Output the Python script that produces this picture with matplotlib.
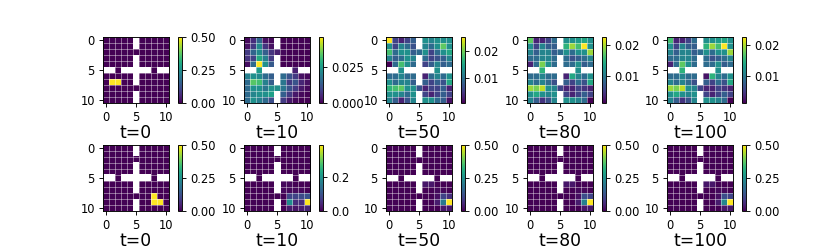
import numpy as np
import matplotlib.pyplot as plt

W = np.nan

# time steps shown in each column
times = [0, 10, 50, 80, 100]

# top row: spread-out occupancy (values in units of 1e-3 except t=0)
top_t0 = np.zeros((11, 11))
top_t0[7, 1] = 0.5
top_t0[7, 2] = 0.5

top_t10 = [
    [1, 6, 15, 2, 1, W, 0, 0, 0, 0, 0],
    [2, 8, 22, 7, 2, W, 0, 0, 0, 0, 0],
    [8, 15, 22, 14, 7, 4, 1, 0, 0, 0, 0],
    [7, 9, 28, 20, 8, W, 0, 0, 0, 0, 0],
    [2, 16, 46, 23, 13, W, 0, 0, 0, 0, 0],
    [W, W, 25, W, W, W, W, W, 4, W, W],
    [20, 23, 22, 16, 14, W, 16, 12, 8, 2, 1],
    [16, 34, 32, 20, 14, W, 18, 8, 12, 5, 2],
    [16, 23, 23, 18, 23, 23, 18, 12, 8, 3, 1],
    [16, 21, 23, 23, 26, W, 14, 8, 3, 1, 0],
    [16, 23, 20, 16, 11, W, 8, 3, 1, 0, 0],
]

top_t50 = [
    [25.4, 5.6, 3.1, 5.6, 8.0, W, 13.0, 11.8, 13.0, 13.0, 13.0],
    [13.0, 5.6, 11.8, 9.3, 6.8, W, 11.8, 9.3, 13.0, 19.2, 13.0],
    [18.0, 9.3, 13.0, 13.0, 8.0, 9.3, 13.0, 5.6, 9.3, 13.0, 15.5],
    [11.8, 8.0, 9.3, 13.0, 11.8, W, 9.3, 5.6, 6.8, 8.0, 11.8],
    [0.6, 9.3, 18.0, 13.0, 9.3, W, 5.6, 8.0, 11.8, 8.0, 9.3],
    [W, W, 13.0, W, W, W, W, W, 13.0, W, W],
    [9.3, 9.3, 11.8, 9.3, 9.3, W, 3.1, 9.3, 11.8, 9.3, 13.0],
    [13.0, 9.3, 11.8, 11.8, 8.0, W, 8.0, 5.6, 8.0, 6.8, 15.5],
    [16.7, 18.0, 19.2, 13.0, 13.0, 6.8, 3.1, 5.6, 5.6, 8.0, 3.1],
    [13.0, 13.0, 11.8, 9.3, 13.0, W, 5.6, 3.1, 5.6, 8.0, 5.6],
    [11.8, 8.0, 3.1, 6.8, 11.8, W, 13.0, 13.0, 9.3, 8.0, 1.8],
]

top_t80 = [
    [17.2, 3.3, 3.3, 5.5, 8.7, W, 11.9, 11.9, 12.9, 14.0, 11.9],
    [11.9, 5.5, 10.8, 7.6, 7.6, W, 15.0, 19.3, 16.1, 22.5, 11.9],
    [10.8, 7.6, 10.8, 10.8, 7.6, 8.7, 11.9, 8.7, 11.9, 11.9, 19.3],
    [8.7, 8.7, 10.8, 10.8, 8.7, W, 8.7, 6.5, 7.6, 8.7, 10.8],
    [3.3, 8.7, 18.2, 11.9, 8.7, W, 8.7, 8.7, 11.9, 7.6, 8.7],
    [W, W, 15.0, W, W, W, W, W, 11.9, W, W],
    [8.7, 8.7, 10.8, 8.7, 8.7, W, 3.3, 14.0, 10.8, 8.7, 11.9],
    [10.8, 8.7, 10.8, 8.7, 6.5, W, 7.6, 5.5, 8.7, 6.5, 14.0],
    [19.3, 18.2, 20.4, 11.9, 10.8, 5.5, 3.3, 3.3, 5.5, 4.4, 3.3],
    [11.9, 14.0, 11.9, 10.8, 11.9, W, 5.5, 3.3, 5.5, 7.6, 5.5],
    [10.8, 7.6, 4.4, 6.5, 10.8, W, 11.9, 11.9, 10.8, 8.7, 1.2],
]

top_t100 = [
    [16.1, 3.3, 3.3, 5.5, 8.7, W, 11.9, 11.9, 12.9, 14.0, 11.9],
    [11.9, 5.5, 10.8, 7.6, 7.6, W, 15.0, 19.3, 16.1, 22.5, 11.9],
    [10.8, 7.6, 10.8, 10.8, 7.6, 8.7, 11.9, 8.7, 11.9, 11.9, 19.3],
    [8.7, 8.7, 10.8, 10.8, 8.7, W, 8.7, 6.5, 7.6, 8.7, 10.8],
    [3.3, 8.7, 17.2, 11.9, 8.7, W, 8.7, 8.7, 11.9, 7.6, 8.7],
    [W, W, 15.0, W, W, W, W, W, 11.9, W, W],
    [8.7, 8.7, 10.8, 8.7, 8.7, W, 2.3, 15.0, 10.8, 8.7, 11.9],
    [10.8, 8.7, 10.8, 8.7, 6.5, W, 7.6, 5.5, 8.7, 6.5, 14.0],
    [19.3, 18.2, 20.4, 11.9, 10.8, 5.5, 3.3, 3.3, 5.5, 4.4, 3.3],
    [11.9, 14.0, 11.9, 10.8, 11.9, W, 5.5, 3.3, 5.5, 7.6, 5.5],
    [10.8, 7.6, 4.4, 6.5, 10.8, W, 11.9, 11.9, 10.8, 8.7, 1.2],
]

# bottom row: concentrated occupancy, only non-zero cells listed (row, col, value)
bot_t0 = [(8, 8, 0.5), (9, 8, 0.5), (9, 9, 0.5)]
bot_t10 = [(6, 6, 0.01), (6, 7, 0.01), (7, 6, 0.01), (7, 7, 0.01), (7, 8, 0.01), (7, 9, 0.01),
           (8, 7, 0.08), (8, 8, 0.08), (8, 9, 0.09), (8, 10, 0.10),
           (9, 7, 0.19), (9, 8, 0.05), (9, 9, 0.05), (9, 10, 0.39),
           (10, 7, 0.03), (10, 8, 0.02), (10, 9, 0.03), (10, 10, 0.04)]
bot_t50 = [(6, 6, 0.03), (6, 7, 0.03), (7, 8, 0.01), (7, 9, 0.01), (8, 8, 0.02),
           (8, 9, 0.10), (8, 10, 0.07), (9, 8, 0.04), (9, 9, 0.20), (9, 10, 0.50),
           (10, 9, 0.03), (10, 10, 0.03)]
bot_t80 = [(6, 6, 0.03), (6, 7, 0.03), (7, 8, 0.01), (7, 9, 0.01), (8, 8, 0.02),
           (8, 9, 0.12), (8, 10, 0.10), (9, 8, 0.04), (9, 9, 0.22), (9, 10, 0.50),
           (10, 9, 0.03), (10, 10, 0.03)]
bot_t100 = [(6, 6, 0.03), (6, 7, 0.03), (7, 8, 0.01), (7, 9, 0.01), (8, 8, 0.02),
            (8, 9, 0.12), (8, 10, 0.10), (9, 8, 0.04), (9, 9, 0.23), (9, 10, 0.50),
            (10, 9, 0.03), (10, 10, 0.03)]

# colorbar ticks per panel
top_ticks = [[0.0, 0.25, 0.5], [0.0, 0.025], [0.01, 0.02], [0.01, 0.02], [0.01, 0.02]]
bot_ticks = [[0.0, 0.25, 0.5], [0.0, 0.2], [0.0, 0.25, 0.5], [0.0, 0.25, 0.5], [0.0, 0.25, 0.5]]
top_fmt = ['%.2f', '%.3f', '%.2f', '%.2f', '%.2f']
bot_fmt = ['%.2f', '%.1f', '%.2f', '%.2f', '%.2f']

# wall mask from the top t=10 grid
wall = np.isnan(np.array(top_t10, dtype=float))

top_grids = [top_t0.copy()] + [np.array(g, dtype=float) / 1000 for g in [top_t10, top_t50, top_t80, top_t100]]
top_grids[0][wall] = np.nan

bot_grids = []
for cells in [bot_t0, bot_t10, bot_t50, bot_t80, bot_t100]:
    g = np.zeros((11, 11))
    for r, c, v in cells:
        g[r, c] = v
    g[wall] = np.nan
    bot_grids.append(g)

fig = plt.figure(figsize=(10, 3), dpi=83)
FW, FH = 830.0, 249.0
col_left = [103, 244, 386, 527, 667]
row_top = [37, 145]
size = 66

for r, (grids, ticks, fmts) in enumerate([(top_grids, top_ticks, top_fmt),
                                          (bot_grids, bot_ticks, bot_fmt)]):
    for c in range(5):
        x0 = col_left[c] / FW
        y0 = 1 - (row_top[r] + size) / FH
        ax = fig.add_axes([x0, y0, size / FW, size / FH])
        cax = fig.add_axes([(col_left[c] + 75) / FW, y0, 4 / FW, size / FH])
        im = ax.imshow(grids[c], cmap='viridis', interpolation='nearest')
        cb = fig.colorbar(im, cax=cax, ticks=ticks[c], format=fmts[c])
        ax.set_xticks([0, 5, 10])
        ax.set_yticks([0, 5, 10])
        ax.set_xticks(np.arange(-0.5, 11, 1), minor=True)
        ax.set_yticks(np.arange(-0.5, 11, 1), minor=True)
        ax.grid(which='minor', color='white', linewidth=0.5, alpha=0.7)
        ax.tick_params(which='minor', length=0)
        ax.set_xlabel(f't={times[c]}', fontsize=15, labelpad=0)

fig.savefig('out.png', dpi=83)
